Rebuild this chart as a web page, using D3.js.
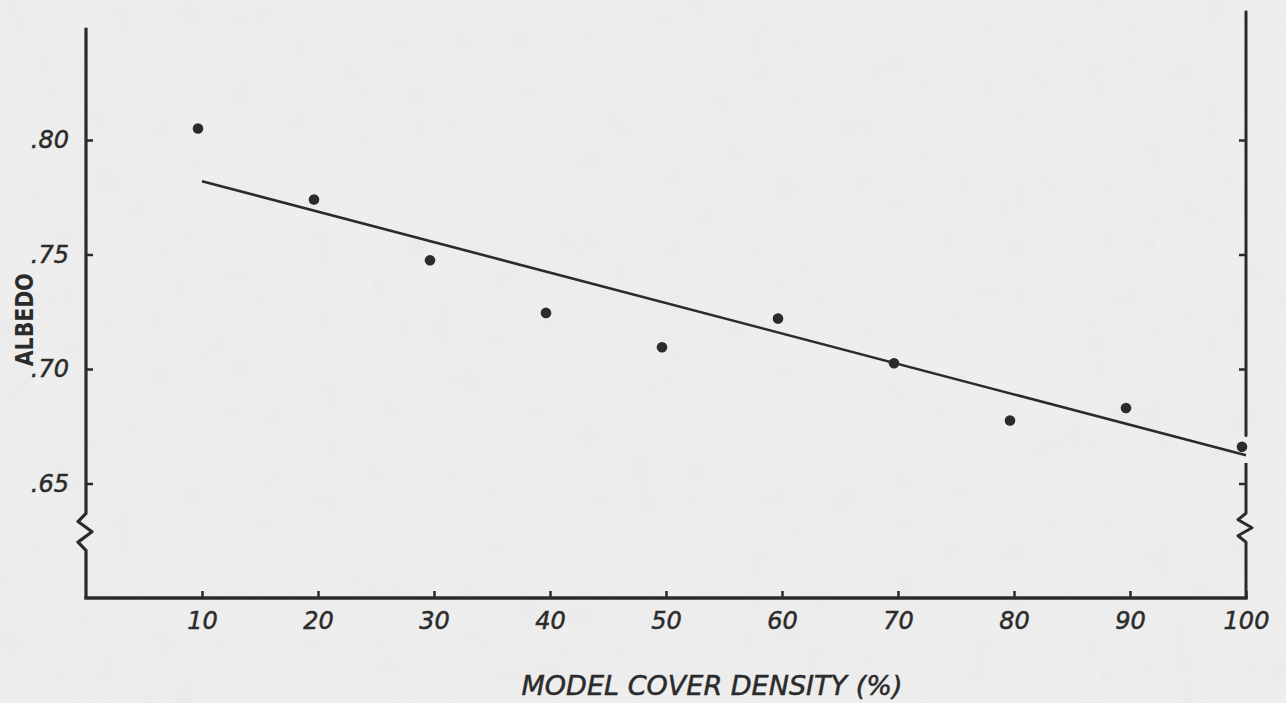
<!DOCTYPE html>
<html>
<head>
<meta charset="utf-8">
<script src="https://cdn.jsdelivr.net/npm/d3@7"></script>
<style>
  html, body { margin: 0; padding: 0; background: #ededed; }
  svg { display: block; }
  text { font-family: "DejaVu Sans", sans-serif; fill: #2b2b2b; }
</style>
</head>
<body>
<svg id="chart" width="1286" height="703"></svg>
<script>
// ---- data ----
const coverDensity = [10, 20, 30, 40, 50, 60, 70, 80, 90, 100];
const albedo = [0.805, 0.774, 0.7475, 0.7245, 0.7095, 0.722, 0.7025, 0.6775, 0.683, 0.666];
const fitX = [10, 100];
const fitY = [0.782, 0.6623];
const yTicks = [0.80, 0.75, 0.70, 0.65];
const yTickLabels = [".80", ".75", ".70", ".65"];
const xTicks = [10, 20, 30, 40, 50, 60, 70, 80, 90, 100];
const xTickLabels = ["10", "20", "30", "40", "50", "60", "70", "80", "90", "100"];
const yAxisTop = 0.849, rightAxisTop = 0.856;
const breakRange = [0.637, 0.619];
const rightBreakRange = [0.637, 0.623];
const rightGap = [0.671, 0.659];
const yLabelCenter = 0.7215;
const xLabel = "MODEL COVER DENSITY (%)";
const yLabel = "ALBEDO";

const ink = "#2b2b2b";
const svg = d3.select("#chart");
const x = d3.scaleLinear().domain([0, 100]).range([86, 1246]);
const y = d3.scaleLinear().domain([0.60, 0.80]).range([598, 140]);

// paper background with a faint mottled texture
const defs = svg.append("defs");
const f = defs.append("filter").attr("id", "paper").attr("x", 0).attr("y", 0).attr("width", "100%").attr("height", "100%");
f.append("feTurbulence").attr("type", "fractalNoise").attr("baseFrequency", 0.035).attr("numOctaves", 3).attr("seed", 4).attr("result", "n");
f.append("feColorMatrix").attr("type", "matrix")
  .attr("values", "0 0 0 0 0.55  0 0 0 0 0.55  0 0 0 0 0.55  0 0 0 -1.6 0.9").attr("result", "m");
f.append("feComposite").attr("in", "m").attr("in2", "SourceGraphic").attr("operator", "in");
svg.append("rect").attr("width", 1286).attr("height", 703).attr("fill", "#eeeeee");
svg.append("rect").attr("width", 1286).attr("height", 703).attr("fill", "#eeeeee")
  .attr("filter", "url(#paper)").attr("opacity", 0.12);

// squiggle helper
function axisWithBreak(xPos, top, b0, b1, bottom) {
  const yb0 = y(b0), yb1 = y(b1);
  const h = yb1 - yb0;
  const offs = [[0,0],[-8,0.2],[6,0.45],[-8,0.7],[0,0.9],[0,1]];
  const pts = [[xPos, y(top)], [xPos, yb0]];
  offs.forEach(o => pts.push([xPos + o[0], yb0 + o[1]*h]));
  pts.push([xPos, y(bottom)]);
  return pts;
}
const lineGen = d3.line().curve(d3.curveLinear);

// left axis line with break
const leftPts = axisWithBreak(x(0), yAxisTop, breakRange[0], breakRange[1], 0.60);
svg.append("path").attr("d", lineGen(leftPts)).attr("fill", "none")
  .attr("stroke", ink).attr("stroke-width", 3.2).attr("stroke-linejoin", "round");

// right axis with gap and break
const rx = x(100);
svg.append("path").attr("d", lineGen([[rx, y(rightAxisTop)], [rx, y(rightGap[0])]]))
  .attr("stroke", ink).attr("stroke-width", 3).attr("fill", "none").attr("stroke-linecap", "round");
const rightLower = axisWithBreak(rx, rightGap[1], rightBreakRange[0], rightBreakRange[1], 0.60);
svg.append("path").attr("d", lineGen(rightLower)).attr("fill", "none")
  .attr("stroke", ink).attr("stroke-width", 3).attr("stroke-linejoin", "round");

// bottom axis line
svg.append("path").attr("d", lineGen([[x(0), y(0.60)], [x(100), y(0.60)]]))
  .attr("stroke", ink).attr("stroke-width", 3.4).attr("fill", "none").attr("stroke-linecap", "square");

// left axis ticks & labels
const yAxis = d3.axisLeft(y).tickValues(yTicks)
  .tickFormat((d, i) => yTickLabels[i]).tickSizeInner(-7).tickSizeOuter(0).tickPadding(17);
const gy = svg.append("g").attr("transform", `translate(${x(0)},0)`).call(yAxis);
gy.select(".domain").remove();
gy.selectAll(".tick line").attr("stroke", ink).attr("stroke-width", 2.5);
gy.selectAll(".tick text").attr("font-size", 24).attr("font-style", "italic").attr("fill", ink)
  .attr("stroke", ink).attr("stroke-width", 0.5).attr("font-family", "DejaVu Sans");

// right axis ticks (inward, no labels)
const yAxisR = d3.axisRight(y).tickValues(yTicks).tickFormat("").tickSizeInner(-7).tickSizeOuter(0);
const gyr = svg.append("g").attr("transform", `translate(${rx},0)`).call(yAxisR);
gyr.select(".domain").remove();
gyr.selectAll(".tick line").attr("stroke", ink).attr("stroke-width", 2.5);

// bottom axis ticks & labels
const xAxis = d3.axisBottom(x).tickValues(xTicks)
  .tickFormat((d, i) => xTickLabels[i]).tickSizeInner(-7).tickSizeOuter(0).tickPadding(14);
const gx = svg.append("g").attr("transform", `translate(0,${y(0.60)})`).call(xAxis);
gx.select(".domain").remove();
gx.selectAll(".tick line").attr("stroke", ink).attr("stroke-width", 2.5);
gx.selectAll(".tick text").attr("font-size", 24).attr("font-style", "italic").attr("fill", ink)
  .attr("stroke", ink).attr("stroke-width", 0.5).attr("font-family", "DejaVu Sans");

// regression line
svg.append("path")
  .attr("d", d3.line().x(d => x(d[0])).y(d => y(d[1]))(fitX.map((v, i) => [v, fitY[i]])))
  .attr("stroke", ink).attr("stroke-width", 2.6).attr("fill", "none");

// data points
svg.append("g").selectAll("circle").data(coverDensity.map((v, i) => [v, albedo[i]]))
  .join("circle")
  .attr("cx", d => x(d[0]) - 4).attr("cy", d => y(d[1])).attr("r", 5.3).attr("fill", ink);

// axis titles
svg.append("text").attr("x", 712).attr("y", 695).attr("text-anchor", "middle")
  .attr("font-size", 26).attr("font-style", "italic").attr("fill", ink)
  .attr("stroke", ink).attr("stroke-width", 0.5)
  .attr("textLength", 381).attr("lengthAdjust", "spacingAndGlyphs").text(xLabel);
svg.append("text").attr("transform", `translate(33,${y(yLabelCenter)}) rotate(-90)`)
  .attr("text-anchor", "middle").attr("font-size", 24).attr("font-weight", "bold").attr("fill", ink)
  .attr("textLength", 93).attr("lengthAdjust", "spacingAndGlyphs")
  .text(yLabel);
</script>
</body>
</html>
